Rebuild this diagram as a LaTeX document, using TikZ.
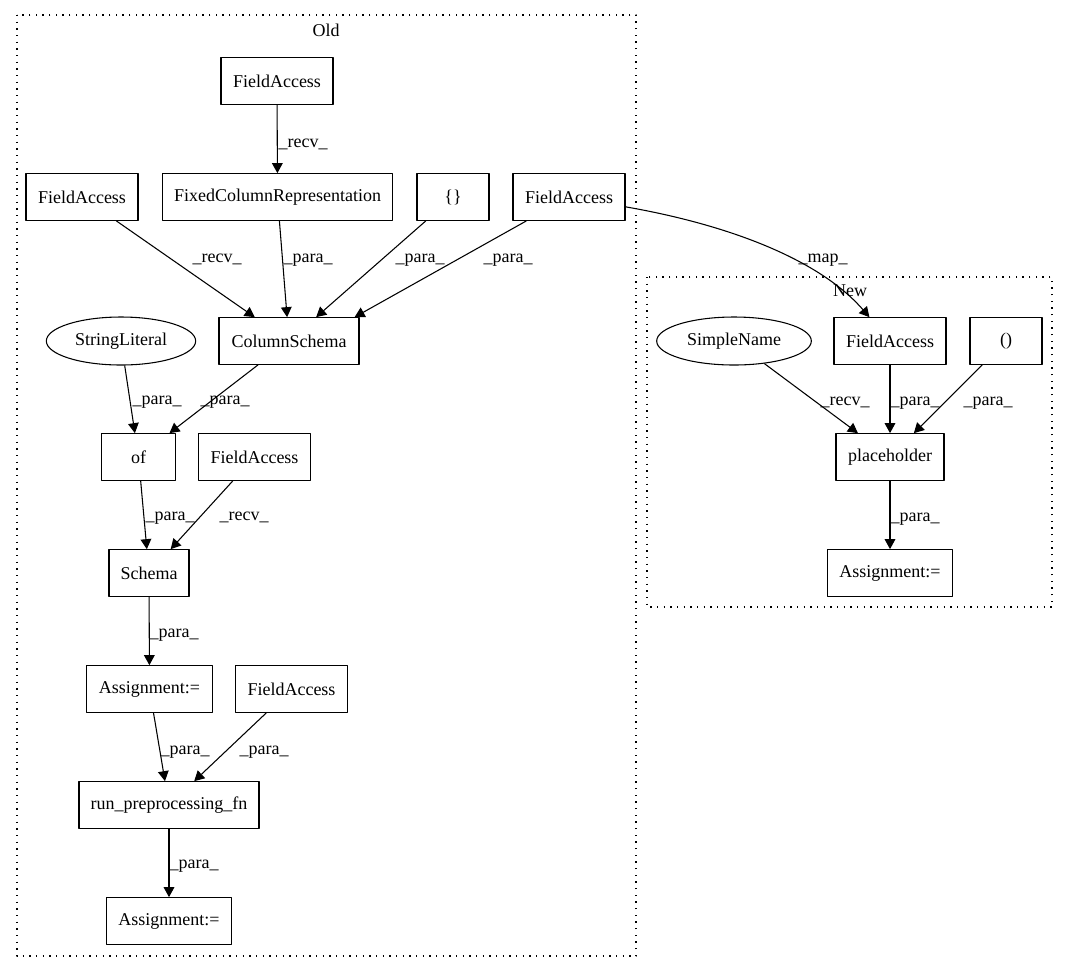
\documentclass[tikz,border=0pt]{standalone}
\usepackage{fontspec}
\setmainfont{Liberation Serif}
\usetikzlibrary{arrows.meta,shapes.geometric}
\begin{document}
\begin{tikzpicture}[x=0.75pt,y=-0.75pt, line join=round,
    font=\fontsize{13.5}{16}\selectfont,
    box/.style={draw, line width=0.8pt, rectangle, minimum height=35pt, inner sep=0pt},
    oval/.style={draw, line width=0.8pt, ellipse, minimum height=36pt, inner sep=0pt},
    edge/.style={line width=0.8pt, -{Triangle[length=7.5pt,width=8pt]}},
    lbl/.style={anchor=base west, inner sep=0pt},
    cluster/.style={line width=0.8pt, dash pattern=on 1pt off 4pt}]
    \useasboundingbox (0,0) rectangle (1069,972);
    % clusters
    \draw[cluster] (17,15) rectangle (636,956);
    \draw[cluster] (647,277) rectangle (1052,607);
    \node[anchor=base, inner sep=0pt] (old) at (326,36) {Old};
    \node[anchor=base, inner sep=0pt] (new) at (850,296) {New};
    % Old
    \node[box, minimum width=84pt] (faTop) at (277,81) {FieldAccess};
    \node[box, minimum width=173pt] (fcr) at (277.5,197) {FixedColumnRepresentation};
    \node[box, minimum width=84pt] (faLeft) at (82,197) {FieldAccess};
    \node[box, minimum width=54pt] (braces) at (453,197) {\{\}};
    \node[box, minimum width=84pt] (faRight) at (569,197) {FieldAccess};
    \node[box, minimum width=105pt] (cs) at (289,341) {ColumnSchema};
    \node[oval, minimum width=112pt] (strlit) at (121,341) {StringLiteral};
    \node[box, minimum width=55pt] (of) at (138.5,457) {of};
    \node[box, minimum width=84pt] (faMid) at (254.5,457) {FieldAccess};
    \node[box, minimum width=60pt] (schema) at (149,573) {Schema};
    \node[box, minimum width=94pt] (asgA) at (149.5,689) {Assignment:=};
    \node[box, minimum width=84pt] (faLow) at (291.5,689) {FieldAccess};
    \node[box, minimum width=135pt] (runfn) at (169,805) {run\_preprocessing\_fn};
    \node[box, minimum width=94pt] (asgB) at (169,921) {Assignment:=};
    % New
    \node[oval, minimum width=116pt] (simple) at (734,341) {SimpleName};
    \node[box, minimum width=84pt] (faNew) at (890,341) {FieldAccess};
    \node[box, minimum width=54pt] (parens) at (1006,341) {()};
    \node[box, minimum width=81pt] (ph) at (890,457) {placeholder};
    \node[box, minimum width=94pt] (asgNew) at (890,573) {Assignment:=};
    % edges
    \draw[edge] (faTop) -- (fcr) node[lbl] at (278,147) {\_recv\_};
    \draw[edge] (faLeft) -- (cs) node[lbl] at (192,262) {\_recv\_};
    \draw[edge] (fcr) -- (cs) node[lbl] at (283,262) {\_para\_};
    \draw[edge] (braces) -- (cs) node[lbl] at (395,262) {\_para\_};
    \draw[edge] (faRight) -- (cs.20) node[lbl] at (483,262) {\_para\_};
    \draw[edge] (faRight) .. controls (730,225) and (820,260) .. (faNew) node[lbl] at (798,262) {\_map\_};
    \draw[edge] (strlit) -- (of) node[lbl] at (132,404) {\_para\_};
    \draw[edge] (cs) -- (of) node[lbl] at (200,404) {\_para\_};
    \draw[edge] (of) -- (schema) node[lbl] at (145,520) {\_para\_};
    \draw[edge] (faMid) -- (schema) node[lbl] at (219,520) {\_recv\_};
    \draw[edge] (schema) -- (asgA) node[lbl] at (149,637) {\_para\_};
    \draw[edge] (asgA) -- (runfn) node[lbl] at (160,754) {\_para\_};
    \draw[edge] (faLow) -- (runfn) node[lbl] at (239,754) {\_para\_};
    \draw[edge] (runfn) -- (asgB) node[lbl] at (169,868) {\_para\_};
    \draw[edge] (simple) -- (ph) node[lbl] at (820,405) {\_recv\_};
    \draw[edge] (faNew) -- (ph) node[lbl] at (890,405) {\_para\_};
    \draw[edge] (parens) -- (ph) node[lbl] at (963,405) {\_para\_};
    \draw[edge] (ph) -- (asgNew) node[lbl] at (890,521) {\_para\_};
\end{tikzpicture}
\end{document}
